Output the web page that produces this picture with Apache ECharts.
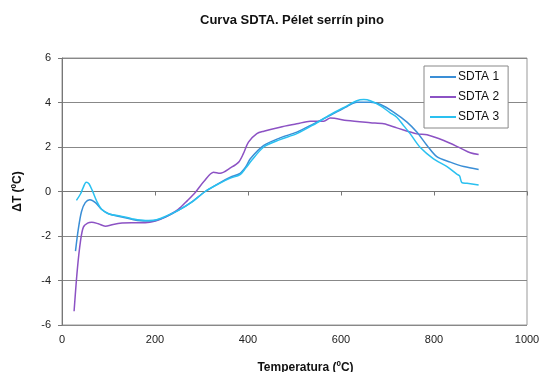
<!DOCTYPE html>
<html>
<head>
<meta charset="utf-8">
<script src="https://cdn.jsdelivr.net/npm/echarts@6/dist/echarts.min.js"></script>
<style>html,body{margin:0;padding:0;background:#fff}#c{width:540px;height:372px}</style>
</head>
<body>
<div id="c"></div>
<script>
var seriesNames = ['SDTA 1', 'SDTA 2', 'SDTA 3'];
var xTicks = [0, 200, 400, 600, 800, 1000];
var yTicks = [-6, -4, -2, 0, 2, 4, 6];

var sdta1 = [
  [29,-2.68],[35,-1.7],[42,-0.9],[50,-0.5],[60,-0.37],[72,-0.5],[85,-0.8],[100,-1.0],[129,-1.15],[150,-1.25],
  [179,-1.33],[200,-1.3],[222,-1.15],[250,-0.85],[280,-0.45],[308,0],[340,0.4],[362,0.64],[383,0.82],[395,1.1],
  [405,1.47],[434,2.07],[469,2.41],[505,2.67],[541,3.04],[577,3.42],[613,3.82],[634,4.01],[663,4.01],[685,3.91],
  [713,3.57],[742,3.12],[763,2.67],[785,2.07],[806,1.57],[835,1.32],[864,1.12],[896,0.99]
];
var sdta2 = [
  [26,-5.38],[33,-3.5],[40,-2.2],[46,-1.6],[55,-1.42],[64,-1.38],[78,-1.45],[93,-1.56],[110,-1.48],[129,-1.42],
  [150,-1.4],[179,-1.41],[201,-1.33],[222,-1.15],[250,-0.8],[270,-0.4],[287,-0.03],[305,0.45],[326,0.87],[340,0.82],
  [362,1.06],[380,1.32],[390,1.7],[401,2.22],[419,2.6],[434,2.71],[469,2.89],[505,3.04],[534,3.16],[563,3.16],
  [577,3.30],[613,3.19],[663,3.09],[692,3.04],[720,2.86],[763,2.59],[785,2.55],[821,2.29],[857,1.95],[878,1.74],[896,1.66]
];
var sdta3 = [
  [31,-0.4],[40,-0.1],[46,0.2],[52,0.42],[58,0.35],[65,0.05],[75,-0.45],[85,-0.8],[100,-1.0],[129,-1.12],
  [150,-1.22],[179,-1.3],[200,-1.28],[222,-1.12],[250,-0.85],[280,-0.47],[308,0],[340,0.38],[362,0.6],[383,0.76],
  [395,1.05],[408,1.4],[434,2.0],[469,2.33],[505,2.6],[541,3.0],[577,3.45],[613,3.85],[634,4.08],[649,4.13],
  [663,4.08],[685,3.85],[705,3.55],[720,3.34],[735,2.95],[749,2.59],[770,1.99],[799,1.47],[828,1.12],[849,0.78],
  [855,0.7],[860,0.4],[871,0.37],[896,0.29]
];

var colors = ['#3a8ed6', '#8c52c4', '#2ac0f0'];
var font = 'Liberation Sans, Arial, sans-serif';
var chart = echarts.init(document.getElementById('c'), null, {renderer: 'canvas'});
chart.setOption({
  animation: false,
  backgroundColor: '#fff',
  title: {
    text: 'Curva SDTA. Pélet serrín pino',
    left: 287, top: 9, textAlign: 'center',
    textStyle: {fontFamily: font, fontSize: 13, fontWeight: 'bold', color: '#111'}
  },
  legend: {
    orient: 'vertical', left: 424, top: 66,
    data: seriesNames,
    icon: 'rect', itemWidth: 26, itemHeight: 2, itemGap: 8,
    backgroundColor: '#fff', borderColor: '#888', borderWidth: 1,
    padding: [5, 9, 5, 6],
    textStyle: {fontFamily: font, fontSize: 12, color: '#111', padding: [0,0,0,-3]}
  },
  grid: {left: 62, right: 13, top: 58, bottom: 47, show: true, borderColor: '#999', borderWidth: 1,
         containLabel: false, outerBoundsMode: 'none'},
  xAxis: {
    type: 'value', min: xTicks[0], max: xTicks[xTicks.length-1], interval: 200,
    name: 'Temperatura (ºC)', nameLocation: 'middle', nameGap: 37,
    nameTextStyle: {fontFamily: font, fontSize: 12, fontWeight: 'bold', color: '#111', padding: [0,0,0,22]},
    axisLine: {lineStyle: {color: '#777'}},
    axisTick: {show: true, inside: false, length: 4, lineStyle: {color: '#777'}},
    axisLabel: {fontFamily: font, fontSize: 11, color: '#222', margin: 9, formatter: function (v) { return String(v); }},
    splitLine: {show: false}
  },
  yAxis: {
    type: 'value', min: yTicks[0], max: yTicks[yTicks.length-1], interval: 2,
    name: 'ΔT (ºC)', nameLocation: 'middle', nameGap: 38, nameRotate: 90,
    nameTextStyle: {fontFamily: font, fontSize: 12, fontWeight: 'bold', color: '#111'},
    axisLine: {show: true, lineStyle: {color: '#777'}},
    axisTick: {show: true, inside: false, length: 4, lineStyle: {color: '#777'}},
    axisLabel: {fontFamily: font, fontSize: 11, color: '#222', margin: 11, formatter: function (v) { return String(v); }},
    splitLine: {show: true, lineStyle: {color: '#888', width: 1}}
  },
  series: [
    {name: seriesNames[0], type: 'line', data: sdta1, smooth: 0.3, showSymbol: false, symbol: 'none', lineStyle: {color: colors[0], width: 1.5}, itemStyle: {color: colors[0]}, z: 3},
    {name: seriesNames[1], type: 'line', data: sdta2, smooth: 0.3, showSymbol: false, symbol: 'none', lineStyle: {color: colors[1], width: 1.5}, itemStyle: {color: colors[1]}, z: 2},
    {name: seriesNames[2], type: 'line', data: sdta3, smooth: 0.3, showSymbol: false, symbol: 'none', lineStyle: {color: colors[2], width: 1.5}, itemStyle: {color: colors[2]}, z: 4}
  ]
});
</script>
</body>
</html>
